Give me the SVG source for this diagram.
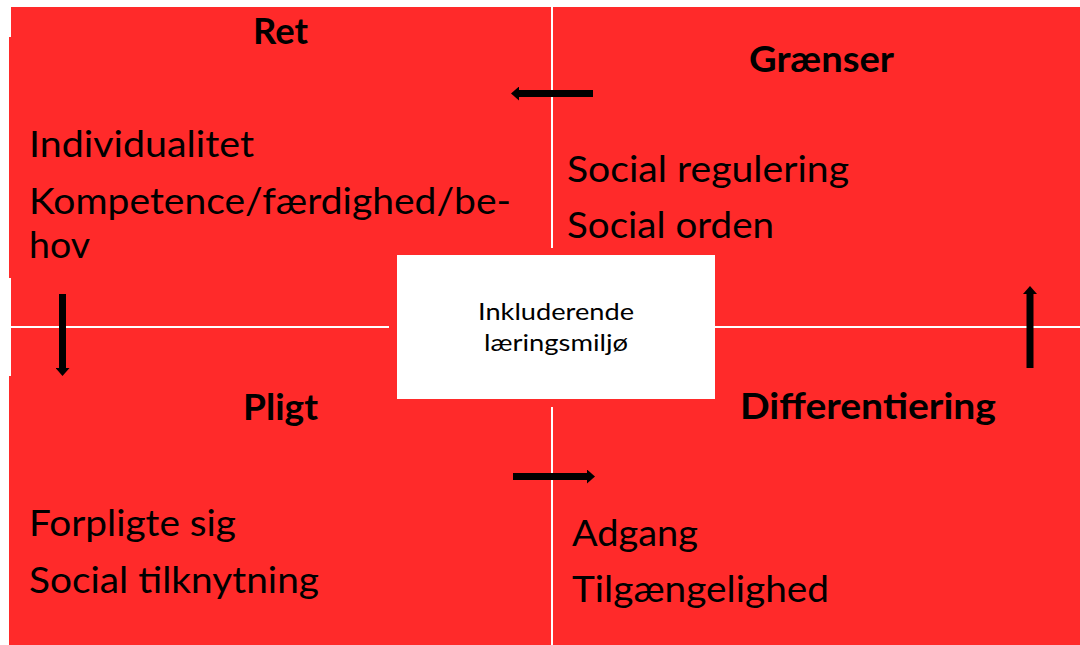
<svg xmlns="http://www.w3.org/2000/svg" width="1080" height="645" viewBox="0 0 1080 645">
  <style>
    .bg { fill: #FF2A2A; }
    .gap { fill: #FFFFFF; }
    .title { font-family: Lato, "Open Sans", "Liberation Sans", sans-serif; font-weight: bold; font-size: 36px; fill: #000000; }
    .body { font-family: Lato, "Open Sans", "Liberation Sans", sans-serif; font-size: 36px; fill: #000000; }
    .center { font-family: Lato, "Open Sans", "Liberation Sans", sans-serif; font-size: 24px; fill: #000000; }
    .arrow { stroke: #000000; stroke-width: 7; fill: none; marker-end: url(#head); }
  </style>
  <defs>
    <marker id="head" markerUnits="userSpaceOnUse" markerWidth="8" markerHeight="14" viewBox="0 0 8 14" refX="0" refY="7" orient="auto">
      <path d="M0,0 L8,7 L0,14 Z" fill="#000000"/>
    </marker>
  </defs>

  <rect x="0" y="0" width="1080" height="645" fill="#FFFFFF"/>

  <g id="background">
    <rect class="bg" x="9" y="7" width="1071" height="638"/>
    <rect class="gap" x="9" y="7" width="2" height="30"/>
    <rect class="gap" x="9" y="278" width="2" height="98"/>
    <rect class="gap" x="551" y="7" width="2" height="241"/>
    <rect class="gap" x="551" y="407" width="2" height="238"/>
    <rect class="gap" x="11" y="326" width="378" height="2"/>
    <rect class="gap" x="715" y="326" width="365" height="2"/>
  </g>

  <g id="ret">
    <text class="title" x="253" y="44" textLength="55" lengthAdjust="spacingAndGlyphs">Ret</text>
    <text class="body" x="29" y="157" textLength="225" lengthAdjust="spacingAndGlyphs">Individualitet</text>
    <text class="body" x="29" y="214" textLength="482" lengthAdjust="spacingAndGlyphs">Kompetence/færdighed/be-</text>
    <text class="body" x="29" y="258" textLength="61" lengthAdjust="spacingAndGlyphs">hov</text>
  </g>

  <g id="graenser">
    <text class="title" x="749" y="72" textLength="145" lengthAdjust="spacingAndGlyphs">Grænser</text>
    <text class="body" x="567" y="182" textLength="282" lengthAdjust="spacingAndGlyphs">Social regulering</text>
    <text class="body" x="567" y="238" textLength="207" lengthAdjust="spacingAndGlyphs">Social orden</text>
  </g>

  <g id="pligt">
    <text class="title" x="243" y="420" textLength="75" lengthAdjust="spacingAndGlyphs">Pligt</text>
    <text class="body" x="29" y="536" textLength="207" lengthAdjust="spacingAndGlyphs">Forpligte sig</text>
    <text class="body" x="29" y="593" textLength="290" lengthAdjust="spacingAndGlyphs">Social tilknytning</text>
  </g>

  <g id="differentiering">
    <text class="title" x="740" y="419" textLength="256" lengthAdjust="spacingAndGlyphs">Differentiering</text>
    <text class="body" x="572" y="546" textLength="126" lengthAdjust="spacingAndGlyphs">Adgang</text>
    <text class="body" x="572" y="602" textLength="257" lengthAdjust="spacingAndGlyphs">Tilgængelighed</text>
  </g>

  <g id="center">
    <rect x="397" y="255" width="318" height="144" fill="#FFFFFF"/>
    <text class="center" x="478" y="320" textLength="156" lengthAdjust="spacingAndGlyphs">Inkluderende</text>
    <text class="center" x="484" y="351" textLength="144" lengthAdjust="spacingAndGlyphs">læringsmiljø</text>
  </g>

  <g id="connectors">
    <line class="arrow" x1="593" y1="93.5" x2="519" y2="93.5"/>
    <line class="arrow" x1="62.5" y1="294" x2="62.5" y2="368"/>
    <line class="arrow" x1="513" y1="476.5" x2="587" y2="476.5"/>
    <line class="arrow" x1="1030" y1="368" x2="1030" y2="294"/>
  </g>
</svg>
